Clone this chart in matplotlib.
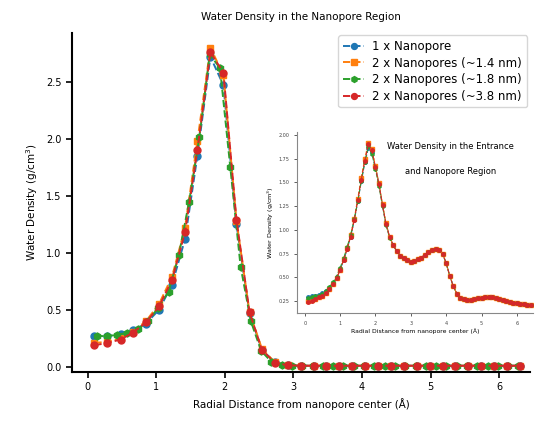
import matplotlib
matplotlib.use('Agg')
import matplotlib.pyplot as plt

# main plot data: radial distance (A) and water density (g/cm^3)
x_a = [0.10, 0.29, 0.48, 0.66, 0.85, 1.04, 1.23, 1.42, 1.60, 1.79, 1.98, 2.17,
       2.36, 2.54, 2.73, 2.92, 3.11, 3.30, 3.48, 3.67, 3.86, 4.05, 4.24, 4.42,
       4.61, 4.80, 4.99, 5.18, 5.36, 5.55, 5.74, 5.93, 6.12, 6.30]
x_b = [0.13, 0.28, 0.43, 0.58, 0.73, 0.88, 1.03, 1.18, 1.33, 1.48, 1.63, 1.78,
       1.93, 2.08, 2.23, 2.38, 2.53, 2.68, 2.83, 2.98, 3.13, 3.28, 3.43, 3.58,
       3.73, 3.88, 4.03, 4.18, 4.33, 4.48, 4.63, 4.78, 4.93, 5.08, 5.23, 5.38,
       5.53, 5.68, 5.83, 5.98, 6.13, 6.28]

one_pore = [0.27, 0.27, 0.29, 0.32, 0.38, 0.50, 0.72, 1.12, 1.85, 2.72, 2.47, 1.25,
            0.47, 0.15, 0.04, 0.015, 0.01, 0.01, 0.01, 0.01, 0.01, 0.01, 0.01, 0.01,
            0.01, 0.01, 0.01, 0.01, 0.01, 0.01, 0.01, 0.01, 0.01, 0.01]
two_14 = [0.21, 0.22, 0.25, 0.31, 0.40, 0.55, 0.79, 1.22, 1.98, 2.80, 2.56, 1.28,
          0.48, 0.16, 0.04, 0.015, 0.01, 0.01, 0.01, 0.01, 0.01, 0.01, 0.01, 0.01,
          0.01, 0.01, 0.01, 0.01, 0.01, 0.01, 0.01, 0.01, 0.01, 0.01]
two_18 = [0.27, 0.27, 0.28, 0.30, 0.33, 0.40, 0.52, 0.66, 0.98, 1.45, 2.02, 2.74,
          2.62, 1.75, 0.88, 0.40, 0.14, 0.045, 0.015, 0.01, 0.01, 0.01, 0.01, 0.01,
          0.01, 0.01, 0.01, 0.01, 0.01, 0.01, 0.01, 0.01, 0.01, 0.01, 0.01, 0.01,
          0.01, 0.01, 0.01, 0.01, 0.01, 0.01]
two_38 = [0.19, 0.21, 0.24, 0.30, 0.39, 0.53, 0.76, 1.18, 1.90, 2.76, 2.58, 1.29,
          0.48, 0.15, 0.035, 0.015, 0.01, 0.01, 0.01, 0.01, 0.01, 0.01, 0.01, 0.01,
          0.01, 0.01, 0.01, 0.01, 0.01, 0.01, 0.01, 0.01, 0.01, 0.01]

labels = ['1 x Nanopore', '2 x Nanopores (~1.4 nm)',
          '2 x Nanopores (~1.8 nm)', '2 x Nanopores (~3.8 nm)']

# inset data: entrance + nanopore region
x_in = [0.1, 0.2, 0.3, 0.4, 0.5, 0.6, 0.7, 0.8, 0.9, 1.0, 1.1, 1.2, 1.3, 1.4, 1.5, 1.6,
        1.7, 1.8, 1.9, 2.0, 2.1, 2.2, 2.3, 2.4, 2.5, 2.6, 2.7, 2.8, 2.9, 3.0, 3.1, 3.2,
        3.3, 3.4, 3.5, 3.6, 3.7, 3.8, 3.9, 4.0, 4.1, 4.2, 4.3, 4.4, 4.5, 4.6, 4.7, 4.8,
        4.9, 5.0, 5.1, 5.2, 5.3, 5.4, 5.5, 5.6, 5.7, 5.8, 5.9, 6.0, 6.1, 6.2, 6.3, 6.4]
in_one = [0.29, 0.30, 0.31, 0.32, 0.34, 0.36, 0.39, 0.44, 0.50, 0.58, 0.68, 0.80, 0.93, 1.10, 1.30, 1.51,
          1.71, 1.86, 1.82, 1.66, 1.48, 1.26, 1.06, 0.93, 0.84, 0.78, 0.73, 0.70, 0.68, 0.66, 0.67, 0.69,
          0.71, 0.74, 0.77, 0.79, 0.80, 0.79, 0.75, 0.65, 0.52, 0.41, 0.33, 0.28, 0.27, 0.26, 0.26, 0.27,
          0.28, 0.28, 0.29, 0.29, 0.29, 0.28, 0.27, 0.26, 0.25, 0.24, 0.23, 0.23, 0.22, 0.22, 0.21, 0.21]
in_14 = [0.25, 0.26, 0.27, 0.29, 0.31, 0.34, 0.38, 0.43, 0.49, 0.58, 0.69, 0.81, 0.95, 1.12, 1.33, 1.55,
         1.75, 1.92, 1.85, 1.67, 1.49, 1.27, 1.07, 0.93, 0.84, 0.78, 0.73, 0.70, 0.68, 0.66, 0.67, 0.69,
         0.71, 0.74, 0.77, 0.79, 0.80, 0.79, 0.75, 0.65, 0.52, 0.41, 0.33, 0.28, 0.27, 0.26, 0.26, 0.27,
         0.28, 0.28, 0.29, 0.29, 0.29, 0.28, 0.27, 0.26, 0.25, 0.24, 0.23, 0.23, 0.22, 0.22, 0.21, 0.21]
in_18 = [0.28, 0.29, 0.30, 0.31, 0.33, 0.36, 0.40, 0.45, 0.51, 0.60, 0.70, 0.82, 0.95, 1.11, 1.30, 1.52,
         1.72, 1.88, 1.80, 1.64, 1.46, 1.25, 1.05, 0.92, 0.84, 0.78, 0.73, 0.70, 0.68, 0.66, 0.67, 0.69,
         0.71, 0.74, 0.77, 0.79, 0.80, 0.79, 0.75, 0.65, 0.52, 0.41, 0.33, 0.28, 0.27, 0.26, 0.26, 0.27,
         0.28, 0.28, 0.29, 0.29, 0.29, 0.28, 0.27, 0.26, 0.25, 0.24, 0.23, 0.23, 0.22, 0.22, 0.21, 0.21]
in_38 = [0.24, 0.25, 0.27, 0.29, 0.31, 0.34, 0.38, 0.43, 0.49, 0.58, 0.68, 0.80, 0.93, 1.10, 1.31, 1.53,
         1.73, 1.90, 1.84, 1.66, 1.48, 1.26, 1.06, 0.93, 0.84, 0.78, 0.73, 0.70, 0.68, 0.66, 0.67, 0.69,
         0.71, 0.74, 0.77, 0.79, 0.80, 0.79, 0.75, 0.65, 0.52, 0.41, 0.33, 0.28, 0.27, 0.26, 0.26, 0.27,
         0.28, 0.28, 0.29, 0.29, 0.29, 0.28, 0.27, 0.26, 0.25, 0.24, 0.23, 0.23, 0.22, 0.22, 0.21, 0.21]

colors = ['#1f77b4', '#ff7f0e', '#2ca02c', '#d62728']
markers = ['o', 's', 'h', 'o']

fig = plt.figure(figsize=(5.36, 4.26), dpi=100)
ax = fig.add_axes([0.134, 0.127, 0.855, 0.796])

main_x = [x_a, x_a, x_b, x_a]
main_y = [one_pore, two_14, two_18, two_38]
for xs, ys, c, m, lab in zip(main_x, main_y, colors, markers, labels):
    ax.plot(xs, ys, linestyle='--', marker=m, color=c, markersize=5,
            linewidth=1.4, label=lab)

ax.set_xlim(-0.23, 6.45)
ax.set_ylim(-0.044, 2.93)
ax.set_xticks([0, 1, 2, 3, 4, 5, 6])
ax.set_yticks([0.0, 0.5, 1.0, 1.5, 2.0, 2.5])
ax.spines['top'].set_visible(False)
ax.spines['right'].set_visible(False)
ax.spines['left'].set_linewidth(1.5)
ax.spines['bottom'].set_linewidth(1.5)
ax.tick_params(labelsize=7, width=1.2, length=4)
ax.set_title('Water Density in the Nanopore Region', fontsize=7.5, pad=9)
ax.set_xlabel('Radial Distance from nanopore center (Å)', fontsize=7.5)
ax.set_ylabel('Water Density (g/cm$^3$)', fontsize=7.5)
ax.legend(loc='upper right', bbox_to_anchor=(1.006, 1.01), fontsize=8.5,
          handlelength=1.8, handletextpad=0.7, labelspacing=0.3, borderpad=0.4,
          markerscale=0.85)

# inset
ins = fig.add_axes([0.554, 0.265, 0.44, 0.425])
for ys, c, m in zip([in_one, in_14, in_18, in_38], colors, markers):
    ins.plot(x_in, ys, linestyle='--', marker=m, color=c, markersize=2.5,
             linewidth=0.8)
ins.set_xlim(-0.22, 6.45)
ins.set_ylim(0.125, 2.03)
ins.set_xticks([0, 1, 2, 3, 4, 5, 6])
ins.set_yticks([0.25, 0.50, 0.75, 1.00, 1.25, 1.50, 1.75, 2.00])
ins.set_yticklabels(['0.25', '0.50', '0.75', '1.00', '1.25', '1.50', '1.75', '2.00'])
for s in ['top', 'right']:
    ins.spines[s].set_visible(False)
for s in ['left', 'bottom']:
    ins.spines[s].set_color('#888888')
ins.tick_params(labelsize=3.5, width=0.6, length=2, colors='#444444')
ins.set_xlabel('Radial Distance from nanopore center (Å)', fontsize=4.4, labelpad=2)
ins.set_ylabel('Water Density (g/cm$^3$)', fontsize=4.6, labelpad=2)
ins.text(0.65, 0.92, 'Water Density in the Entrance', transform=ins.transAxes,
         fontsize=6, ha='center', va='center')
ins.text(0.65, 0.78, 'and Nanopore Region', transform=ins.transAxes,
         fontsize=6, ha='center', va='center')

fig.savefig('out.png', dpi=100)
